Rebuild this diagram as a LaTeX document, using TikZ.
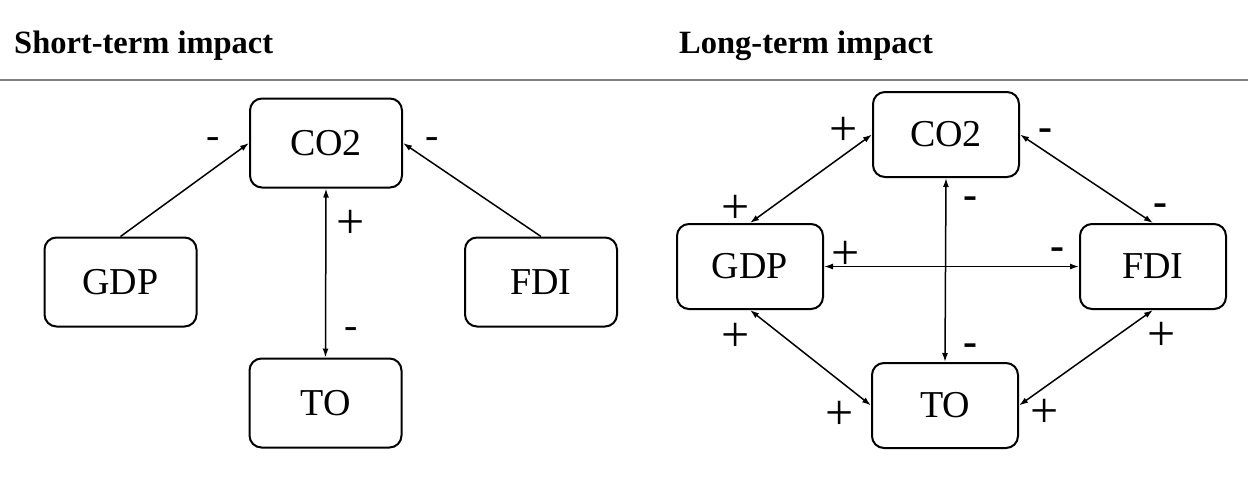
\documentclass[tikz,border=0pt]{standalone}
\usepackage{fontspec}
\setmainfont{Liberation Serif}
\usetikzlibrary{arrows.meta}
\begin{document}
\begin{tikzpicture}[x=1pt,y=-1pt,
  varbox/.style={draw, line width=2pt, rounded corners=12pt, inner sep=0pt,
    font=\fontsize{38}{40}\selectfont},
  smallbox/.style={varbox, minimum width=152pt, minimum height=89pt},
  bigbox/.style={varbox, minimum width=146pt, minimum height=85pt},
  link/.style={line width=1.5pt, -{Latex[length=9pt,width=6pt]}},
  dlink/.style={line width=1.5pt, {Latex[length=9pt,width=6pt]}-{Latex[length=9pt,width=6pt]}},
  psign/.style={inner sep=0pt, font=\fontsize{50}{50}\selectfont},
  msign/.style={inner sep=0pt, font=\fontsize{40}{40}\selectfont},
  bsign/.style={inner sep=0pt, font=\fontsize{42}{42}\selectfont\bfseries},
  heading/.style={anchor=base west, inner sep=0pt, font=\fontsize{32.5}{36}\selectfont\bfseries}]
\useasboundingbox (0,0) rectangle (1248,480);

% column headings and rule
\node[heading] (hshort) at (14,53) {Short-term impact};
\node[heading] (hlong) at (679,53) {Long-term impact};
\draw[line width=2.8pt, gray] (0,80) -- (1248,80);

% short-term panel
\node[smallbox] (co2s) at (326,143) {CO2};
\node[smallbox] (gdps) at (120.5,282) {GDP};
\node[smallbox] (fdis) at (541,282) {FDI};
\node[smallbox] (tos) at (325.5,403) {TO};

\draw[link] (gdps.north) -- (co2s.west);
\draw[link] (fdis.north) -- (co2s.east);
\draw[dlink] (co2s.south) -- (tos.north);

\node[msign] (s1) at (213,143) {-};
\node[msign] (s2) at (432,143) {-};
\node[psign] (s3) at (351,224) {+};
\node[msign] (s4) at (351,333) {-};

% long-term panel
\node[bigbox] (co2l) at (946,134.5) {CO2};
\node[bigbox] (gdpl) at (750,266.5) {GDP};
\node[bigbox] (fdil) at (1153,266.5) {FDI};
\node[bigbox] (tol) at (945,405.5) {TO};

\draw[dlink] (co2l.west) -- (gdpl.north);
\draw[dlink] (co2l.east) -- (fdil.north);
\draw[dlink] (co2l.south) -- (tol.north);
\draw[dlink] (gdpl.east) -- (fdil.west);
\draw[dlink] (gdpl.south) -- (tol.west);
\draw[dlink] (fdil.south) -- (tol.east);

\node[psign] (l1) at (844,131.5) {+};
\node[psign] (l2) at (736,209) {+};
\node[psign] (l3) at (846,255) {+};
\node[bsign] (l4) at (1045,135) {-};
\node[bsign] (l5) at (1160,210) {-};
\node[bsign] (l6) at (970,203) {-};
\node[bsign] (l7) at (1057,254) {-};
\node[psign] (l8) at (736,337) {+};
\node[bsign] (l9) at (970,350) {-};
\node[psign] (l10) at (1162,336) {+};
\node[psign] (l11) at (840,415) {+};
\node[psign] (l12) at (1045,413) {+};
\end{tikzpicture}
\end{document}
